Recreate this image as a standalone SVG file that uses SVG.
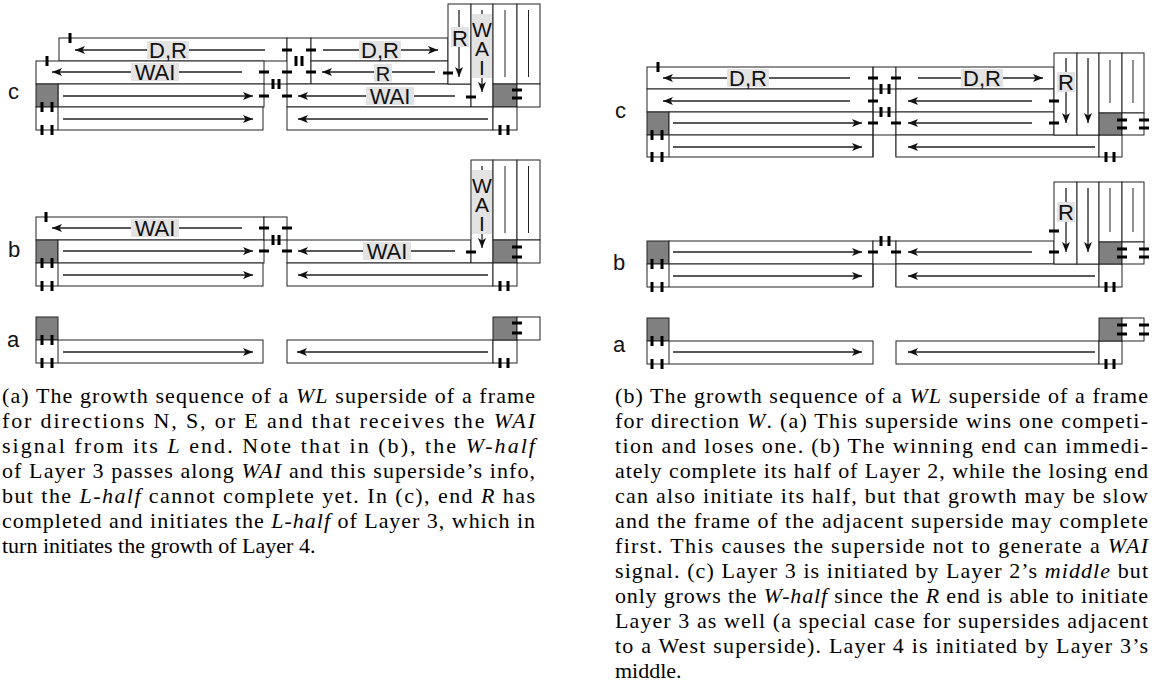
<svg xmlns="http://www.w3.org/2000/svg" width="1156" height="684" viewBox="0 0 1156 684">
<defs>
<marker id="ah" markerUnits="userSpaceOnUse" viewBox="0 0 10 8" markerWidth="10" markerHeight="8" refX="10" refY="4" orient="auto"><path d="M0,0 L10,4 L0,8 L2.5,4 z" fill="#111"/></marker>
<style>
.b{fill:#fff;stroke:#222;stroke-width:1}
.e{fill:#808080;stroke:#222;stroke-width:1}
.l{fill:none;stroke:#222;stroke-width:1}
.a{fill:none;stroke:#222;stroke-width:1.3;marker-end:url(#ah)}
.t{fill:none;stroke:#000;stroke-width:3}
.g{fill:#e3e3e3}
.lt{font-family:"Liberation Sans",Arial,sans-serif;font-size:22px;fill:#111;text-anchor:middle}
.sm{font-size:20px}
.vt{font-family:"Liberation Sans",Arial,sans-serif;font-size:21px;fill:#111;writing-mode:vertical-rl;text-orientation:upright;letter-spacing:-4px}
.pl{font-family:"Liberation Sans",Arial,sans-serif;font-size:22px;fill:#111}
.cap{font-family:"Liberation Serif","Times New Roman",serif;font-size:22px;fill:#000}
.i{font-style:italic}
</style>
</defs>
<rect width="1156" height="684" fill="#fff"/>

<g id="left-c">
<rect class="b" x="59" y="38" width="228" height="23"/>
<rect class="b" x="36" y="61" width="228" height="23"/>
<rect class="b" x="58" y="84" width="206" height="23"/>
<rect class="e" x="36" y="84" width="22" height="23"/>
<rect class="b" x="36" y="107" width="227" height="23"/>
<path class="l" d="M58 107V130M264 84H287M287 61H311"/>
<rect class="b" x="287" y="38" width="24" height="46"/>
<rect class="b" x="311" y="38" width="137" height="23"/>
<rect class="b" x="311" y="61" width="137" height="23"/>
<rect class="b" x="287" y="84" width="184" height="23"/>
<rect class="b" x="448" y="4" width="23" height="80"/>
<rect class="b" x="471" y="4" width="22" height="103"/>
<rect class="b" x="493" y="4" width="24" height="80"/>
<rect class="b" x="517" y="4" width="23" height="80"/>
<rect class="e" x="493" y="84" width="24" height="23"/>
<rect class="b" x="517" y="84" width="23" height="23"/>
<rect class="b" x="287" y="107" width="206" height="23"/>
<rect class="b" x="493" y="107" width="24" height="23"/>
<path class="l" d="M505 10V77M528.5 10V77"/>
</g>

<g id="left-b">
<rect class="b" x="36" y="217" width="228" height="23"/>
<rect class="e" x="36" y="240" width="22" height="23"/>
<rect class="b" x="58" y="240" width="206" height="23"/>
<rect class="b" x="36" y="263" width="227" height="23"/>
<path class="l" d="M58 263V286"/>
<rect class="b" x="264" y="217" width="23" height="23"/>
<rect class="b" x="287" y="240" width="184" height="23"/>
<rect class="b" x="471" y="160" width="22" height="103"/>
<rect class="b" x="493" y="160" width="24" height="80"/>
<rect class="b" x="517" y="160" width="23" height="80"/>
<rect class="e" x="493" y="240" width="24" height="23"/>
<rect class="b" x="517" y="240" width="23" height="23"/>
<rect class="b" x="287" y="263" width="206" height="23"/>
<rect class="b" x="493" y="263" width="24" height="23"/>
<path class="l" d="M505 166V233M528.5 166V233"/>
</g>

<g id="left-a">
<rect class="e" x="36" y="317" width="22" height="23"/>
<rect class="b" x="36" y="340" width="227" height="23"/>
<path class="l" d="M58 340V363"/>
<rect class="b" x="287" y="340" width="206" height="23"/>
<rect class="b" x="493" y="340" width="24" height="23"/>
<rect class="e" x="493" y="317" width="24" height="23"/>
<rect class="b" x="517" y="317" width="23" height="23"/>
</g>

<g id="right-c">
<rect class="b" x="647" y="67" width="226" height="22"/>
<rect class="b" x="647" y="89" width="226" height="23"/>
<rect class="e" x="647" y="112" width="22" height="23"/>
<rect class="b" x="669" y="112" width="204" height="23"/>
<rect class="b" x="647" y="135" width="226" height="22"/>
<path class="l" d="M669 135V157M873 67V157M896 67V157M873 67H896M873 89H896M873 112H896M873 135H896"/>
<rect class="b" x="896" y="67" width="158" height="22"/>
<rect class="b" x="896" y="89" width="158" height="23"/>
<rect class="b" x="896" y="112" width="158" height="23"/>
<rect class="b" x="896" y="135" width="203" height="22"/>
<rect class="b" x="1099" y="135" width="23" height="22"/>
<rect class="b" x="1054" y="53" width="23" height="82"/>
<rect class="b" x="1077" y="53" width="22" height="82"/>
<rect class="b" x="1099" y="53" width="23" height="60"/>
<rect class="b" x="1122" y="53" width="22" height="60"/>
<rect class="e" x="1099" y="113" width="23" height="22"/>
<rect class="b" x="1122" y="113" width="22" height="22"/>
<path class="l" d="M1110 60V103M1133 60V103"/>
</g>

<g id="right-b">
<rect class="e" x="647" y="241" width="22" height="23"/>
<rect class="b" x="669" y="241" width="204" height="23"/>
<rect class="b" x="647" y="264" width="226" height="23"/>
<path class="l" d="M669 264V287M873 264V287M896 264V287"/>
<rect class="b" x="873" y="241" width="23" height="23"/>
<rect class="b" x="896" y="241" width="158" height="23"/>
<rect class="b" x="896" y="264" width="203" height="23"/>
<rect class="b" x="1099" y="264" width="23" height="23"/>
<rect class="b" x="1054" y="182" width="23" height="82"/>
<rect class="b" x="1077" y="182" width="22" height="82"/>
<rect class="b" x="1099" y="182" width="23" height="60"/>
<rect class="b" x="1122" y="182" width="22" height="60"/>
<rect class="e" x="1099" y="242" width="23" height="22"/>
<rect class="b" x="1122" y="242" width="22" height="22"/>
<path class="l" d="M1110 188V232M1133 188V232"/>
</g>

<g id="right-a">
<rect class="e" x="647" y="318" width="22" height="23"/>
<rect class="b" x="647" y="341" width="226" height="23"/>
<path class="l" d="M669 341V364"/>
<rect class="b" x="896" y="341" width="203" height="23"/>
<rect class="b" x="1099" y="341" width="23" height="23"/>
<rect class="e" x="1099" y="318" width="23" height="23"/>
<rect class="b" x="1122" y="318" width="22" height="23"/>
</g>

<g id="connectors">
<path class="a" d="M265 50H75"/>
<path class="a" d="M242 72H52"/>
<path class="a" d="M63 96H253"/>
<path class="a" d="M63 119H253"/>
<path class="a" d="M323 50H438"/>
<path class="a" d="M435 72H322"/>
<path class="a" d="M455 96H298"/>
<path class="a" d="M488 119H298"/>
<path class="a" d="M459 10V77"/>
<path class="a" d="M482 10V92"/>
<path class="a" d="M242 228H52"/>
<path class="a" d="M63 251H253"/>
<path class="a" d="M63 275H253"/>
<path class="a" d="M455 251H298"/>
<path class="a" d="M488 275H298"/>
<path class="a" d="M482 166V248"/>
<path class="a" d="M63 352H253"/>
<path class="a" d="M488 352H297"/>
<path class="a" d="M850 78H663"/>
<path class="a" d="M850 101H663"/>
<path class="a" d="M673 123H862"/>
<path class="a" d="M673 147H862"/>
<path class="a" d="M918 78H1043"/>
<path class="a" d="M1032 101H908"/>
<path class="a" d="M1032 123H908"/>
<path class="a" d="M1095 147H908"/>
<path class="a" d="M1066 58V123"/>
<path class="a" d="M1088 58V123"/>
<path class="a" d="M673 252H862"/>
<path class="a" d="M673 276H862"/>
<path class="a" d="M1032 252H908"/>
<path class="a" d="M1095 276H908"/>
<path class="a" d="M1066 188V252"/>
<path class="a" d="M1088 188V252"/>
<path class="a" d="M673 352H862"/>
<path class="a" d="M1095 352H908"/>
</g>

<g id="labels">
<rect class="g" x="147" y="41" width="42" height="18"/><text class="lt" x="168" y="58">D,R</text>
<rect class="g" x="131" y="63" width="48" height="18"/><text class="lt" x="155" y="80">WAI</text>
<rect class="g" x="359" y="41" width="42" height="18"/><text class="lt" x="380" y="58">D,R</text>
<rect class="g" x="374" y="64" width="18" height="18"/><text class="lt sm" x="383" y="81">R</text>
<rect class="g" x="366" y="87" width="48" height="18"/><text class="lt" x="390" y="104">WAI</text>
<rect class="g" x="451" y="27" width="18" height="20"/><text class="lt" x="460" y="46">R</text>
<rect class="g" x="472" y="14" width="20" height="64"/><text class="vt" x="482" y="18">WAI</text>
<rect class="g" x="131" y="219" width="48" height="18"/><text class="lt" x="155" y="236">WAI</text>
<rect class="g" x="363" y="242" width="48" height="18"/><text class="lt" x="387" y="259">WAI</text>
<rect class="g" x="472" y="170" width="20" height="64"/><text class="vt" x="482" y="174">WAI</text>
<rect class="g" x="727" y="69" width="42" height="18"/><text class="lt" x="748" y="86">D,R</text>
<rect class="g" x="961" y="69" width="42" height="18"/><text class="lt" x="982" y="86">D,R</text>
<rect class="g" x="1057" y="72" width="18" height="20"/><text class="lt" x="1066" y="90">R</text>
<rect class="g" x="1057" y="202" width="18" height="20"/><text class="lt" x="1066" y="220">R</text>
<text class="pl" x="8" y="99">c</text>
<text class="pl" x="8" y="257">b</text>
<text class="pl" x="7" y="347">a</text>
<text class="pl" x="615" y="118">c</text>
<text class="pl" x="613" y="270">b</text>
<text class="pl" x="613" y="352">a</text>
</g>

<g id="ticks">
<path class="t" d="M70 33v10M47 56v10M42 102v10M52 102v10M42 125v10M52 125v10M296 56v10M302 56v10M273 79v10M279 79v10M500 125v10M508 125v10M259 72h10M259 96h10M282 50h10M282 72h10M282 96h10M306 50h10M306 72h10M443 73h10M466 97h10M512 90h10M512 98h10"/>
<path class="t" d="M46 212v10M42 258v10M52 258v10M42 281v10M52 281v10M273 235v10M279 235v10M500 281v10M508 281v10M259 228h10M282 228h10M259 251h10M282 251h10M466 252h10M512 247h10M512 257h10"/>
<path class="t" d="M42 335v10M52 335v10M42 358v10M52 358v10M500 358v10M508 358v10M512 323h10M512 333h10"/>
<path class="t" d="M658 62v10M652 130v10M662 130v10M652 152v10M662 152v10M881 84v10M889 84v10M881 107v10M889 107v10M1106 152v10M1114 152v10M868 78h10M891 78h10M868 101h10M868 123h10M891 123h10M1049 101h10M1049 123h10M1117 120h10M1117 128h10M1139 120h10M1139 128h10"/>
<path class="t" d="M652 259v10M662 259v10M652 282v10M662 282v10M881 236v10M889 236v10M1106 282v10M1114 282v10M868 252h10M891 252h10M1049 252h10M1049 231h10M1117 249h10M1117 257h10M1139 249h10M1139 257h10"/>
<path class="t" d="M652 336v10M662 336v10M652 359v10M662 359v10M1106 359v10M1114 359v10M1117 325h10M1117 334h10M1139 325h10M1139 334h10"/>
</g>

<g id="caption-a" class="cap">
<text x="2" y="403" textLength="533" lengthAdjust="spacing">(a) The growth sequence of a <tspan class="i">WL</tspan> superside of a frame</text>
<text x="2" y="428" textLength="533" lengthAdjust="spacing">for directions N, S, or E and that receives the <tspan class="i">WAI</tspan></text>
<text x="2" y="453" textLength="533" lengthAdjust="spacing">signal from its <tspan class="i">L</tspan> end.  Note that in (b), the <tspan class="i">W-half</tspan></text>
<text x="2" y="478" textLength="533" lengthAdjust="spacing">of Layer 3 passes along <tspan class="i">WAI</tspan> and this superside’s info,</text>
<text x="2" y="503" textLength="533" lengthAdjust="spacing">but the <tspan class="i">L-half</tspan> cannot complete yet. In (c), end <tspan class="i">R</tspan> has</text>
<text x="2" y="528" textLength="533" lengthAdjust="spacing">completed and initiates the <tspan class="i">L-half</tspan> of Layer 3, which in</text>
<text x="2" y="553">turn initiates the growth of Layer 4.</text>
</g>

<g id="caption-b" class="cap">
<text x="615" y="403" textLength="533" lengthAdjust="spacing">(b) The growth sequence of a <tspan class="i">WL</tspan> superside of a frame</text>
<text x="615" y="428" textLength="533" lengthAdjust="spacing">for direction <tspan class="i">W</tspan>. (a) This superside wins one competi-</text>
<text x="615" y="453" textLength="533" lengthAdjust="spacing">tion and loses one. (b) The winning end can immedi-</text>
<text x="615" y="478" textLength="533" lengthAdjust="spacing">ately complete its half of Layer 2, while the losing end</text>
<text x="615" y="503" textLength="533" lengthAdjust="spacing">can also initiate its half, but that growth may be slow</text>
<text x="615" y="528" textLength="533" lengthAdjust="spacing">and the frame of the adjacent superside may complete</text>
<text x="615" y="553" textLength="533" lengthAdjust="spacing">first. This causes the superside not to generate a <tspan class="i">WAI</tspan></text>
<text x="615" y="578" textLength="533" lengthAdjust="spacing">signal. (c) Layer 3 is initiated by Layer 2’s <tspan class="i">middle</tspan> but</text>
<text x="615" y="603" textLength="533" lengthAdjust="spacing">only grows the <tspan class="i">W-half</tspan> since the <tspan class="i">R</tspan> end is able to initiate</text>
<text x="615" y="628" textLength="533" lengthAdjust="spacing">Layer 3 as well (a special case for supersides adjacent</text>
<text x="615" y="653" textLength="533" lengthAdjust="spacing">to a West superside). Layer 4 is initiated by Layer 3’s</text>
<text x="615" y="678">middle.</text>
</g>
</svg>
